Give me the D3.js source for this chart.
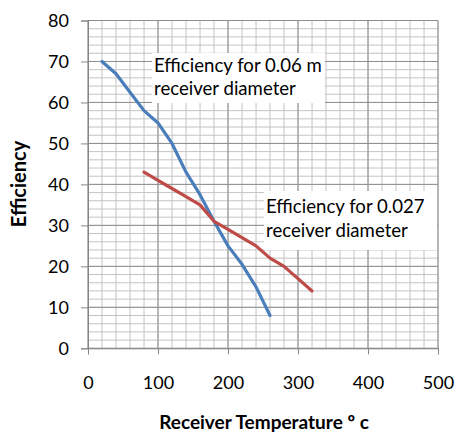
<!DOCTYPE html>
<html>
<head>
<meta charset="utf-8">
<script src="https://cdn.jsdelivr.net/npm/d3@7"></script>
<style>
  html, body { margin: 0; padding: 0; background: #fff; }
  svg { display: block; }
  text { font-family: Lato, "Open Sans", sans-serif; fill: #000; }
</style>
</head>
<body>
<svg id="chart" width="456" height="432"></svg>
<script>
// ---- data ----
const blueTemps = [20, 40, 60, 80, 100, 120, 140, 160, 180, 200, 220, 240, 260];
const blueEff   = [70, 67, 62.5, 58, 55, 50, 43, 37.5, 31, 25, 20.5, 15, 8];
const redTemps  = [80, 100, 120, 140, 160, 180, 200, 220, 240, 260, 280, 300, 320];
const redEff    = [43, 41, 39, 37, 35, 31, 29, 27, 25, 22, 20, 17, 14];
const xTicks = [0, 100, 200, 300, 400, 500];
const yTicks = [0, 10, 20, 30, 40, 50, 60, 70, 80];
const labelBlue = ["Efficiency for 0.06 m", "receiver diameter"];
const labelRed  = ["Efficiency for 0.027", "receiver diameter"];
const xTitle = "Receiver Temperature º c";
const yTitle = "Efficiency";

// ---- layout ----
const L = 88, R = 438, T = 20.5, B = 348.3;
const svg = d3.select("#chart");
const x = d3.scaleLinear().domain([0, 500]).range([L, R]);
const y = d3.scaleLinear().domain([0, 80]).range([B, T]);

// minor grid
const g = svg.append("g");
g.selectAll(".mx").data(d3.range(0, 501, 20)).join("line")
  .attr("x1", d => x(d)).attr("x2", d => x(d)).attr("y1", T).attr("y2", B)
  .attr("stroke", "#c4c4c4").attr("stroke-width", 1);
g.selectAll(".my").data(d3.range(0, 81, 2)).join("line")
  .attr("y1", d => y(d)).attr("y2", d => y(d)).attr("x1", L).attr("x2", R)
  .attr("stroke", "#c4c4c4").attr("stroke-width", 1);
// major grid
g.selectAll(".Mx").data(xTicks).join("line")
  .attr("x1", d => x(d)).attr("x2", d => x(d)).attr("y1", T).attr("y2", B)
  .attr("stroke", "#8e8e8e").attr("stroke-width", 1);
g.selectAll(".My").data(yTicks).join("line")
  .attr("y1", d => y(d)).attr("y2", d => y(d)).attr("x1", L).attr("x2", R)
  .attr("stroke", "#8e8e8e").attr("stroke-width", 1);

// axes
const xAxis = d3.axisBottom(x).tickValues(xTicks).tickSize(6).tickPadding(22).tickFormat(d3.format("d"));
const yAxis = d3.axisLeft(y).tickValues(yTicks).tickSize(7).tickPadding(12).tickFormat(d3.format("d"));
const gx = svg.append("g").attr("transform", `translate(0,${B})`).call(xAxis);
const gy = svg.append("g").attr("transform", `translate(${L},0)`).call(yAxis);
[gx, gy].forEach(a => {
  a.select(".domain").attr("stroke", "#868686");
  a.selectAll(".tick line").attr("stroke", "#868686");
  a.selectAll(".tick text").style("font-size", "18px").style("font-family", "Lato, sans-serif").attr("fill", "#000");
});

// lines
const line = d3.line().x(d => x(d[0])).y(d => y(d[1]));
const blue = blueTemps.map((t, i) => [t, blueEff[i]]);
const red = redTemps.map((t, i) => [t, redEff[i]]);

svg.append("path").datum(blue).attr("d", line)
  .attr("fill", "none").attr("stroke", "#4a7ebb").attr("stroke-width", 3.2)
  .attr("stroke-linejoin", "round").attr("stroke-linecap", "round");
svg.append("path").datum(red).attr("d", line)
  .attr("fill", "none").attr("stroke", "#be4b48").attr("stroke-width", 3.2)
  .attr("stroke-linejoin", "round").attr("stroke-linecap", "round");

// annotation boxes
function annot(lines, bx, by, bw, bh, tx, ty) {
  svg.append("rect").attr("x", bx).attr("y", by).attr("width", bw).attr("height", bh).attr("fill", "#fff");
  const t = svg.append("text").attr("x", tx).attr("y", ty).style("font-size", "18.6px");
  lines.forEach((s, i) => t.append("tspan").attr("x", tx).attr("dy", i ? 23.5 : 0).text(s));
}
annot(labelBlue, 152, 53, 173, 50, 154, 71.5);
annot(labelRed, 264, 191, 173, 59, 266, 213);

// axis titles
svg.append("text").attr("x", 264).attr("y", 429).attr("text-anchor", "middle")
  .style("font-size", "19px").style("font-weight", "bold").text(xTitle);
svg.append("text").attr("transform", `translate(26,184) rotate(-90)`).attr("text-anchor", "middle")
  .style("font-size", "20px").style("font-weight", "bold").text(yTitle);
</script>
</body>
</html>
